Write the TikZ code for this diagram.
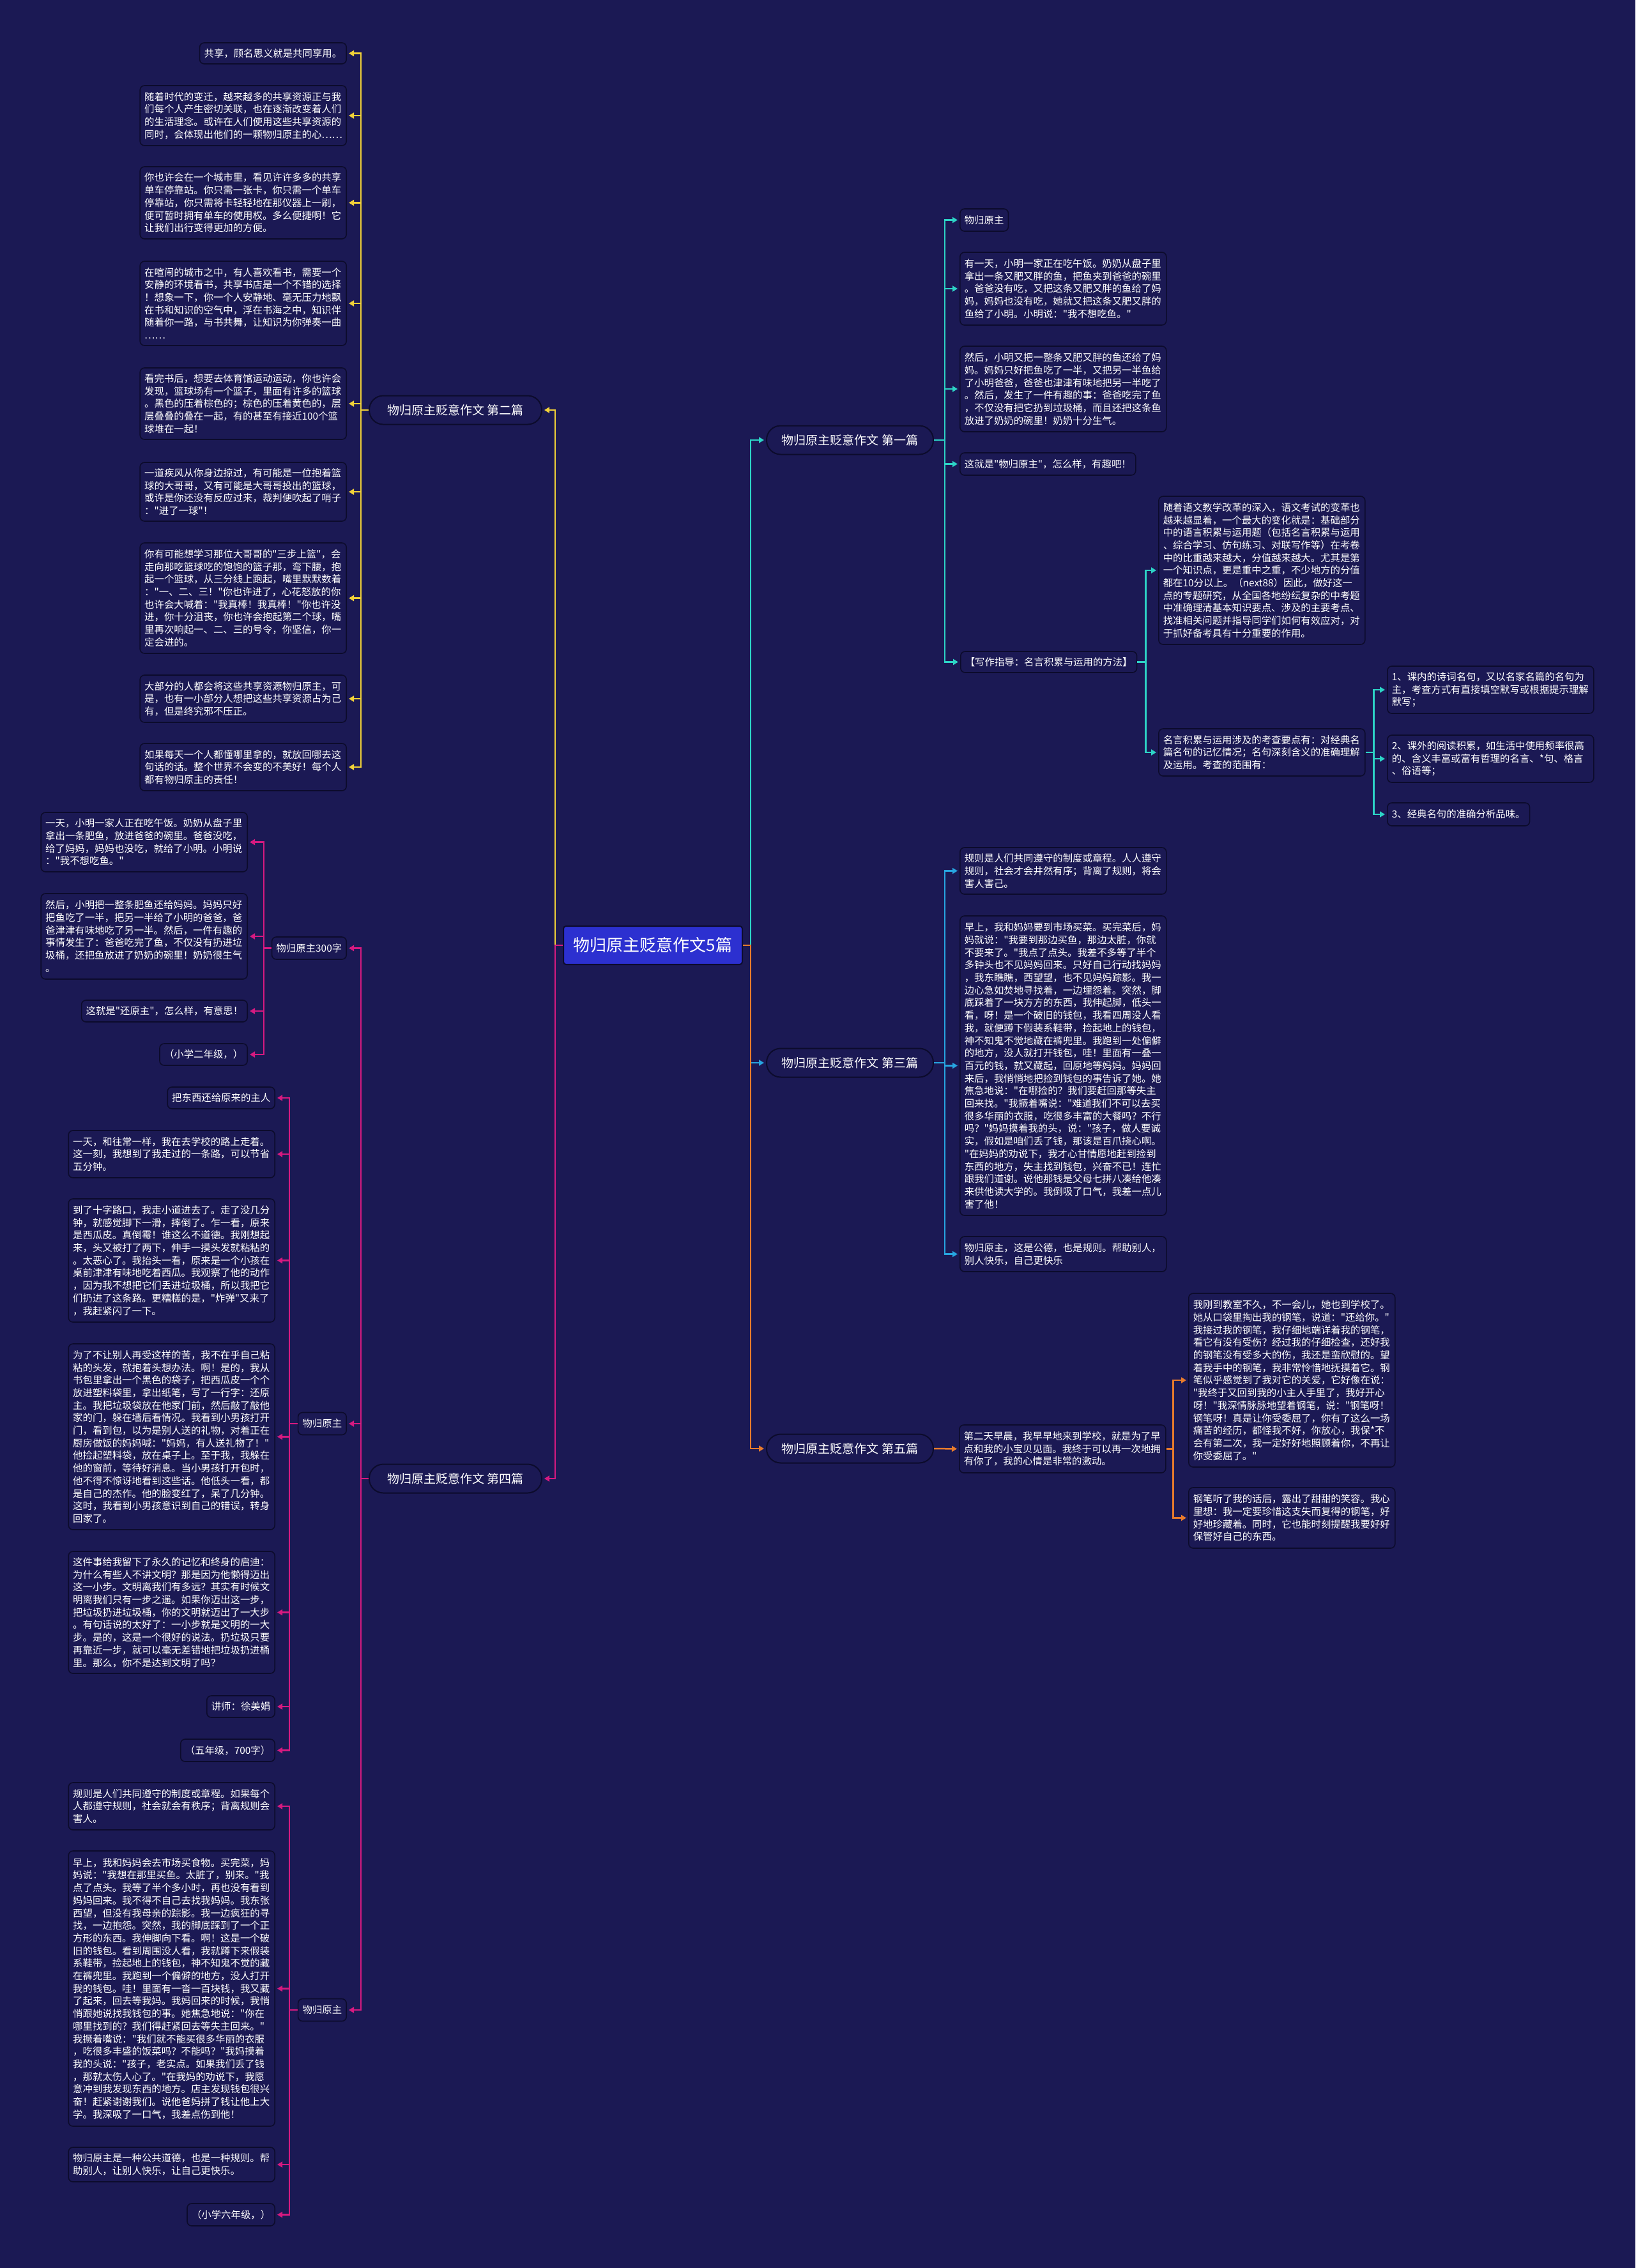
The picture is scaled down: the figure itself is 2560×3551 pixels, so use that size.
\documentclass[tikz,border=0pt]{standalone}
\usepackage{fontspec}
\setmainfont{Noto Sans CJK SC}[Ligatures=TeXOff]
\usetikzlibrary{arrows.meta}
\definecolor{bgc}{RGB}{27,25,84}
\definecolor{bdc}{RGB}{12,11,44}
\definecolor{rootc}{RGB}{44,48,208}
\definecolor{yel}{RGB}{242,210,56}
\definecolor{pnk}{RGB}{214,26,128}
\definecolor{tea}{RGB}{45,212,198}
\definecolor{blu}{RGB}{39,165,224}
\definecolor{org}{RGB}{232,123,44}
\newcommand\mkE[6]{\node[#1,anchor=east,minimum height=#5pt] (#2) at (#3,#4) {#6};}
\newcommand\mkW[6]{\node[#1,anchor=west,minimum height=#5pt] (#2) at (#3,#4) {#6};}
\begin{document}
\begin{tikzpicture}[x=1pt,y=-1pt,
  boxbase/.style={draw=bdc,fill=bgc,line width=1.6pt,rounded corners=7pt,text=white,
    font=\fontsize{15.4}{19.7}\selectfont,inner xsep=7pt,inner ysep=4pt,align=left},
  leafbox/.style={boxbase,text width=309pt},
  tagbox/.style={boxbase},
  pill/.style={draw=bdc,fill=bgc,line width=2pt,rounded corners=22pt,minimum height=45pt,
    text=white,font=\fontsize{19}{21}\selectfont},
  root/.style={draw=bdc,fill=rootc,line width=2pt,rounded corners=4pt,minimum width=280pt,
    minimum height=60pt,text=white,font=\fontsize{26}{28}\selectfont},
  conn/.style={line width=2.5pt,-{Triangle[length=8pt,width=9pt]},shorten >=3pt}]
\fill[bgc] (0,0) rectangle (2560,3551);
\useasboundingbox (0,0) rectangle (2560,3551);

% root and level 1
\node[root] (root) at (1022,1480) {物归原主贬意作文5篇};
\node[pill,minimum width=270pt] (L2) at (713,642) {物归原主贬意作文 第二篇};
\node[pill,minimum width=270pt] (L4) at (713,2315) {物归原主贬意作文 第四篇};
\node[pill,minimum width=261pt] (R1) at (1330.5,689) {物归原主贬意作文 第一篇};
\node[pill,minimum width=261pt] (R3) at (1330.5,1664) {物归原主贬意作文 第三篇};
\node[pill,minimum width=261pt] (R5) at (1330.5,2268) {物归原主贬意作文 第五篇};

% ===== 第二篇 =====
\mkE{tagbox}{a1}{543}{83.5}{33}{共享，顾名思义就是共同享用。}
\mkE{leafbox}{a2}{543}{181}{94}{随着时代的变迁，越来越多的共享资源正与我\\们每个人产生密切关联，也在逐渐改变着人们\\的生活理念。或许在人们使用这些共享资源的\\同时，会体现出他们的一颗物归原主的心……}
\mkE{leafbox}{a3}{543}{317.5}{113}{你也许会在一个城市里，看见许许多多的共享\\单车停靠站。你只需一张卡，你只需一个单车\\停靠站，你只需将卡轻轻地在那仪器上一刷，\\便可暂时拥有单车的使用权。多么便捷啊！它\\让我们出行变得更加的方便。}
\mkE{leafbox}{a4}{543}{475}{132}{在喧闹的城市之中，有人喜欢看书，需要一个\\安静的环境看书，共享书店是一个不错的选择\\！想象一下，你一个人安静地、毫无压力地飘\\在书和知识的空气中，浮在书海之中，知识伴\\随着你一路，与书共舞，让知识为你弹奏一曲\\……}
\mkE{leafbox}{a5}{543}{632}{112}{看完书后，想要去体育馆运动运动，你也许会\\发现，篮球场有一个篮子，里面有许多的篮球\\。黑色的压着棕色的；棕色的压着黄色的，层\\层叠叠的叠在一起，有的甚至有接近100个篮\\球堆在一起！}
\mkE{leafbox}{a6}{543}{770}{92}{一道疾风从你身边掠过，有可能是一位抱着篮\\球的大哥哥，又有可能是大哥哥投出的篮球，\\或许是你还没有反应过来，裁判便吹起了哨子\\："进了一球"！}
\mkE{leafbox}{a7}{543}{936.5}{173}{你有可能想学习那位大哥哥的"三步上篮"，会\\走向那吃篮球吃的饱饱的篮子那，弯下腰，抱\\起一个篮球，从三分线上跑起，嘴里默默数着\\："一、二、三！"你也许进了，心花怒放的你\\也许会大喊着："我真棒！我真棒！"你也许没\\进，你十分沮丧，你也许会抱起第二个球，嘴\\里再次响起一、二、三的号令，你坚信，你一\\定会进的。}
\mkE{leafbox}{a8}{543}{1094}{74}{大部分的人都会将这些共享资源物归原主，可\\是，也有一小部分人想把这些共享资源占为己\\有，但是终究邪不压正。}
\mkE{leafbox}{a9}{543}{1201}{74}{如果每天一个人都懂哪里拿的，就放回哪去这\\句话的话。整个世界不会变的不美好！每个人\\都有物归原主的责任！}

% ===== 第四篇 =====
\mkE{tagbox}{b1}{543}{1484.5}{35}{物归原主300字}
\mkE{tagbox}{b2}{543}{2229}{35}{物归原主}
\mkE{tagbox}{b3}{543}{3147}{35}{物归原主}

\mkE{leafbox}{c1}{388}{1318.5}{93}{一天，小明一家人正在吃午饭。奶奶从盘子里\\拿出一条肥鱼，放进爸爸的碗里。爸爸没吃，\\给了妈妈，妈妈也没吃，就给了小明。小明说\\："我不想吃鱼。"}
\mkE{leafbox}{c2}{388}{1466}{134}{然后，小明把一整条肥鱼还给妈妈。妈妈只好\\把鱼吃了一半，把另一半给了小明的爸爸，爸\\爸津津有味地吃了另一半。然后，一件有趣的\\事情发生了：爸爸吃完了鱼，不仅没有扔进垃\\圾桶，还把鱼放进了奶奶的碗里！奶奶很生气\\。}
\mkE{tagbox}{c3}{388}{1583}{34}{这就是"还原主"，怎么样，有意思！}
\mkE{tagbox}{c4}{388}{1651}{34}{（小学二年级，）}

\mkE{tagbox}{d1}{431}{1719}{34}{把东西还给原来的主人}
\mkE{leafbox}{d2}{431}{1807}{74}{一天，和往常一样，我在去学校的路上走着。\\这一刻，我想到了我走过的一条路，可以节省\\五分钟。}
\mkE{leafbox}{d3}{431}{1973.5}{193}{到了十字路口，我走小道进去了。走了没几分\\钟，就感觉脚下一滑，摔倒了。乍一看，原来\\是西瓜皮。真倒霉！谁这么不道德。我刚想起\\来，头又被打了两下，伸手一摸头发就粘粘的\\。太恶心了。我抬头一看，原来是一个小孩在\\桌前津津有味地吃着西瓜。我观察了他的动作\\，因为我不想把它们丢进垃圾桶，所以我把它\\们扔进了这条路。更糟糕的是，"炸弹"又来了\\，我赶紧闪了一下。}
\mkE{leafbox}{d4}{431}{2249.5}{291}{为了不让别人再受这样的苦，我不在乎自己粘\\粘的头发，就抱着头想办法。啊！是的，我从\\书包里拿出一个黑色的袋子，把西瓜皮一个个\\放进塑料袋里，拿出纸笔，写了一行字：还原\\主。我把垃圾袋放在他家门前，然后敲了敲他\\家的门，躲在墙后看情况。我看到小男孩打开\\门，看到包，以为是别人送的礼物，对着正在\\厨房做饭的妈妈喊："妈妈，有人送礼物了！"\\他捡起塑料袋，放在桌子上。至于我，我躲在\\他的窗前，等待好消息。当小男孩打开包时，\\他不得不惊讶地看到这些话。他低头一看，都\\是自己的杰作。他的脸变红了，呆了几分钟。\\这时，我看到小男孩意识到自己的错误，转身\\回家了。}
\mkE{leafbox}{d5}{431}{2524.5}{191}{这件事给我留下了永久的记忆和终身的启迪：\\为什么有些人不讲文明？那是因为他懒得迈出\\这一小步。文明离我们有多远？其实有时候文\\明离我们只有一步之遥。如果你迈出这一步，\\把垃圾扔进垃圾桶，你的文明就迈出了一大步\\。有句话说的太好了：一小步就是文明的一大\\步。是的，这是一个很好的说法。扔垃圾只要\\再靠近一步，就可以毫无差错地把垃圾扔进桶\\里。那么，你不是达到文明了吗？}
\mkE{tagbox}{d6}{431}{2672}{34}{讲师：徐美娟}
\mkE{tagbox}{d7}{431}{2740.5}{35}{（五年级，700字）}

\mkE{leafbox}{e1}{431}{2828}{74}{规则是人们共同遵守的制度或章程。如果每个\\人都遵守规则，社会就会有秩序；背离规则会\\害人。}
\mkE{leafbox}{e2}{431}{3113.5}{431}{早上，我和妈妈会去市场买食物。买完菜，妈\\妈说："我想在那里买鱼。太脏了，别来。"我\\点了点头。我等了半个多小时，再也没有看到\\妈妈回来。我不得不自己去找我妈妈。我东张\\西望，但没有我母亲的踪影。我一边疯狂的寻\\找，一边抱怨。突然，我的脚底踩到了一个正\\方形的东西。我伸脚向下看。啊！这是一个破\\旧的钱包。看到周围没人看，我就蹲下来假装\\系鞋带，捡起地上的钱包，神不知鬼不觉的藏\\在裤兜里。我跑到一个偏僻的地方，没人打开\\我的钱包。哇！里面有一沓一百块钱，我又藏\\了起来，回去等我妈。我妈回来的时候，我悄\\悄跟她说找我钱包的事。她焦急地说："你在\\哪里找到的？我们得赶紧回去等失主回来。"\\我撅着嘴说："我们就不能买很多华丽的衣服\\，吃很多丰盛的饭菜吗？不能吗？"我妈摸着\\我的头说："孩子，老实点。如果我们丢了钱\\，那就太伤人心了。"在我妈的劝说下，我愿\\意冲到我发现东西的地方。店主发现钱包很兴\\奋！赶紧谢谢我们。说他爸妈拼了钱让他上大\\学。我深吸了一口气，我差点伤到他！}
\mkE{leafbox}{e3}{431}{3389}{54}{物归原主是一种公共道德，也是一种规则。帮\\助别人，让别人快乐，让自己更快乐。}
\mkE{tagbox}{e4}{431}{3467.5}{35}{（小学六年级，）}

% ===== 第一篇 =====
\mkW{tagbox}{f1}{1502}{344.5}{35}{物归原主}
\mkW{leafbox}{f2}{1502}{452}{114}{有一天，小明一家正在吃午饭。奶奶从盘子里\\拿出一条又肥又胖的鱼，把鱼夹到爸爸的碗里\\。爸爸没有吃，又把这条又肥又胖的鱼给了妈\\妈，妈妈也没有吃，她就又把这条又肥又胖的\\鱼给了小明。小明说："我不想吃鱼。"}
\mkW{leafbox}{f3}{1502}{609}{134}{然后，小明又把一整条又肥又胖的鱼还给了妈\\妈。妈妈只好把鱼吃了一半，又把另一半鱼给\\了小明爸爸，爸爸也津津有味地把另一半吃了\\。然后，发生了一件有趣的事：爸爸吃完了鱼\\，不仅没有把它扔到垃圾桶，而且还把这条鱼\\放进了奶奶的碗里！奶奶十分生气。}
\mkW{tagbox}{f4}{1502}{726.5}{35}{这就是"物归原主"，怎么样，有趣吧！}
\mkW{tagbox}{f5}{1503}{1036.5}{33}{【写作指导：名言积累与运用的方法】}
\mkW{leafbox}{g1}{1813}{893}{232}{随着语文教学改革的深入，语文考试的变革也\\越来越显着，一个最大的变化就是：基础部分\\中的语言积累与运用题（包括名言积累与运用\\、综合学习、仿句练习、对联写作等）在考卷\\中的比重越来越大，分值越来越大。尤其是第\\一个知识点，更是重中之重，不少地方的分值\\都在10分以上。（next88）因此，做好这一\\点的专题研究，从全国各地纷纭复杂的中考题\\中准确理清基本知识要点、涉及的主要考点、\\找准相关问题并指导同学们如何有效应对，对\\于抓好备考具有十分重要的作用。}
\mkW{leafbox}{g2}{1813}{1178}{74}{名言积累与运用涉及的考查要点有：对经典名\\篇名句的记忆情况；名句深刻含义的准确理解\\及运用。考查的范围有：}
\mkW{leafbox}{h1}{2171}{1080}{74}{1、课内的诗词名句，又以名家名篇的名句为\\主，考查方式有直接填空默写或根据提示理解\\*默写；}
\mkW{leafbox}{h2}{2171}{1188}{74}{2、课外的阅读积累，如生活中使用频率很高\\的、含义丰富或富有哲理的名言、*句、格言\\、俗语等；}
\mkW{tagbox}{h3}{2171}{1275}{36}{3、经典名句的准确分析品味。}

% ===== 第三篇 =====
\mkW{leafbox}{i1}{1502}{1363.5}{73}{规则是人们共同遵守的制度或章程。人人遵守\\规则，社会才会井然有序；背离了规则，将会\\害人害己。}
\mkW{leafbox}{i2}{1502}{1668.5}{469}{早上，我和妈妈要到市场买菜。买完菜后，妈\\妈就说："我要到那边买鱼，那边太脏，你就\\不要来了。"我点了点头。我差不多等了半个\\多钟头也不见妈妈回来。只好自己行动找妈妈\\，我东瞧瞧，西望望，也不见妈妈踪影。我一\\边心急如焚地寻找着，一边埋怨着。突然，脚\\底踩着了一块方方的东西，我伸起脚，低头一\\看，呀！是一个破旧的钱包，我看四周没人看\\我，就便蹲下假装系鞋带，捡起地上的钱包，\\神不知鬼不觉地藏在裤兜里。我跑到一处偏僻\\的地方，没人就打开钱包，哇！里面有一叠一\\百元的钱，就又藏起，回原地等妈妈。妈妈回\\来后，我悄悄地把捡到钱包的事告诉了她。她\\焦急地说："在哪捡的？我们要赶回那等失主\\回来找。"我撅着嘴说："难道我们不可以去买\\很多华丽的衣服，吃很多丰富的大餐吗？不行\\吗？"妈妈摸着我的头，说："孩子，做人要诚\\实，假如是咱们丢了钱，那该是百爪挠心啊。\\"在妈妈的劝说下，我才心甘情愿地赶到捡到\\东西的地方，失主找到钱包，兴奋不已！连忙\\跟我们道谢。说他那钱是父母七拼八凑给他凑\\来供他读大学的。我倒吸了口气，我差一点儿\\害了他！}
\mkW{leafbox}{i3}{1502}{1963.5}{55}{物归原主，这是公德，也是规则。帮助别人，\\别人快乐，自己更快乐}

% ===== 第五篇 =====
\mkW{leafbox}{j1}{1501}{2268.5}{75}{第二天早晨，我早早地来到学校，就是为了早\\点和我的小宝贝见面。我终于可以再一次地拥\\有你了，我的心情是非常的激动。}
\mkW{leafbox}{k1}{1860}{2161}{272}{我刚到教室不久，不一会儿，她也到学校了。\\她从口袋里掏出我的钢笔，说道："还给你。"\\我接过我的钢笔，我仔细地端详着我的钢笔，\\看它有没有受伤？经过我的仔细检查，还好我\\的钢笔没有受多大的伤，我还是蛮欣慰的。望\\着我手中的钢笔，我非常怜惜地抚摸着它。钢\\笔似乎感觉到了我对它的关爱，它好像在说：\\"我终于又回到我的小主人手里了，我好开心\\呀！"我深情脉脉地望着钢笔，说："钢笔呀！\\钢笔呀！真是让你受委屈了，你有了这么一场\\痛苦的经历，都怪我不好，你放心，我保*不\\会有第二次，我一定好好地照顾着你，不再让\\你受委屈了。"}
\mkW{leafbox}{k2}{1860}{2376.5}{95}{钢笔听了我的话后，露出了甜甜的笑容。我心\\里想：我一定要珍惜这支失而复得的钢笔，好\\好地珍藏着。同时，它也能时刻提醒我要好好\\保管好自己的东西。}

% ===== connectors =====
\draw[conn,yel] (root.west) -- ++(-12,0) |- (L2.east);
\draw[conn,pnk] (root.west) -- ++(-12,0) |- (L4.east);
\draw[conn,tea] (root.east) -- ++(12,0) |- (R1.west);
\draw[conn,blu] (root.east) -- ++(12,0) |- (R3.west);
\draw[conn,org] (root.east) -- ++(12,0) |- (R5.west);

\foreach \c in {a1,a2,a3,a4,a5,a6,a7,a8,a9}
  \draw[conn,yel] (L2.west) -- ++(-12,0) |- (\c.east);
\foreach \c in {b1,b2,b3}
  \draw[conn,pnk] (L4.west) -- ++(-12,0) |- (\c.east);
\foreach \c in {c1,c2,c3,c4}
  \draw[conn,pnk] (b1.west) -- ++(-12,0) |- (\c.east);
\foreach \c in {d1,d2,d3,d4,d5,d6,d7}
  \draw[conn,pnk] (b2.west) -- ++(-13,0) |- (\c.east);
\foreach \c in {e1,e2,e3,e4}
  \draw[conn,pnk] (b3.west) -- ++(-13,0) |- (\c.east);

\foreach \c in {f1,f2,f3,f4,f5}
  \draw[conn,tea] (R1.east) -- ++(17,0) |- (\c.west);
\foreach \c in {g1,g2}
  \draw[conn,tea] (f5.east) -- ++(13,0) |- (\c.west);
\foreach \c in {h1,h2,h3}
  \draw[conn,tea] (g2.east) -- ++(13,0) |- (\c.west);
\foreach \c in {i1,i2,i3}
  \draw[conn,blu] (R3.east) -- ++(17,0) |- (\c.west);
\draw[conn,org] (R5.east) -- (j1.west);
\foreach \c in {k1,k2}
  \draw[conn,org] (j1.east) -- ++(11,0) |- (\c.west);
\end{tikzpicture}
\end{document}
